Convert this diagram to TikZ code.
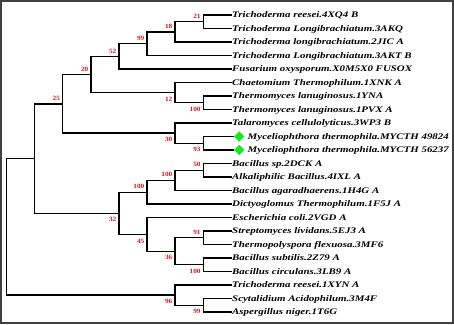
\documentclass[tikz,border=0pt]{standalone}
\usepackage{fontspec}
\usepackage{graphicx}
\setmainfont{Liberation Serif}
\newcommand{\lf}[1]{\scalebox{1.27}[1]{\bfseries\itshape #1}}
\newcommand{\bv}[1]{\scalebox{1.12}[1]{\bfseries #1}}
\usetikzlibrary{shapes.geometric}
\definecolor{lblred}{RGB}{205,25,25}
\definecolor{dgreen}{RGB}{20,235,20}
\begin{document}
\begin{tikzpicture}[x=1pt,y=-1pt,
  branch/.style={line width=1.3pt,black},
  leaf/.style={anchor=west,inner sep=0pt,text height=7pt,text depth=1.8pt,font=\fontsize{8.6}{10}\selectfont},
  boot/.style={inner sep=0pt,text=lblred,font=\fontsize{6.5}{7}\selectfont},
  bup/.style={boot,anchor=base east,xshift=-2.5pt,yshift=3.5pt},
  bdn/.style={boot,anchor=base east,xshift=-2.5pt,yshift=-8.7pt},
  gmark/.style={diamond,fill=dgreen,inner sep=0pt,minimum width=10.5pt,minimum height=10.5pt}]
\useasboundingbox (0,0) rectangle (454,324);
\draw[line width=2pt,black!75] (1,1) rectangle (453,323);
% leaves
\foreach \i/\t in {1/Trichoderma reesei.4XQ4 B,2/Trichoderma Longibrachiatum.3AKQ,3/Trichoderma longibrachiatum.2JIC A,4/Trichoderma Longibrachiatum.3AKT B,5/Fusarium oxysporum.X0M5X0 FUSOX,6/Chaetomium Thermophilum.1XNK A,7/Thermomyces lanuginosus.1YNA,8/Thermomyces lanuginosus.1PVX A,9/Talaromyces cellulolyticus.3WP3 B,12/Bacillus sp.2DCK A,13/Alkaliphilic Bacillus.4IXL A,14/Bacillus agaradhaerens.1H4G A,15/Dictyoglomus Thermophilum.1F5J A,16/Escherichia coli.2VGD A,17/Streptomyces lividans.5EJ3 A,18/Thermopolyspora flexuosa.3MF6,19/Bacillus subtilis.2Z79 A,20/Bacillus circulans.3LB9 A,21/Trichoderma reesei.1XYN A,22/Scytalidium Acidophilum.3M4F,23/Aspergillus niger.1T6G}
  \node[leaf] (l\i) at (232,{15+13.5*(\i-1)}) {\lf{\t}};
\node[gmark] (l10) at (239.3,136.5) {};
\node[leaf] (t10) at (247.5,136.5) {\lf{Myceliophthora thermophila.MYCTH 49824}};
\node[gmark] (l11) at (239.3,150) {};
\node[leaf] (t11) at (247.5,150) {\lf{Myceliophthora thermophila.MYCTH 56237}};
% internal nodes
\coordinate (n21) at (203.3,21.75);
\coordinate (n18) at (175,31.88);
\coordinate (n99a) at (147,43.81);
\coordinate (n52) at (119,56.53);
\coordinate (n100a) at (203.3,102.75);
\coordinate (n12) at (175,92.63);
\coordinate (n20) at (91,74.58);
\coordinate (n93) at (203.3,143.25);
\coordinate (n30) at (175,133.13);
\coordinate (n25) at (62.7,103.85);
\coordinate (n50) at (203.3,170.25);
\coordinate (n100b) at (175,180.38);
\coordinate (n100c) at (147,192.19);
\coordinate (n91) at (203.3,237.75);
\coordinate (n100d) at (203.3,264.75);
\coordinate (n36) at (175,251.25);
\coordinate (n45) at (147,234.38);
\coordinate (n32) at (119,213.28);
\coordinate (nA) at (34.7,158.57);
\coordinate (n99b) at (203.3,305.25);
\coordinate (n96) at (175,295.13);
\coordinate (root) at (6.7,226.85);
% branches
\draw[branch] (l1.west) -| (n21) |- (l2.west);
\draw[branch] (n21) -| (n18) |- (l3.west);
\draw[branch] (n18) -| (n99a) |- (l4.west);
\draw[branch] (n99a) -| (n52) |- (l5.west);
\draw[branch] (l7.west) -| (n100a) |- (l8.west);
\draw[branch] (l6.west) -| (n12) |- (n100a);
\draw[branch] (n52) -| (n20) |- (n12);
\draw[branch] (l10.west) -| (n93) |- (l11.west);
\draw[branch] (l9.west) -| (n30) |- (n93);
\draw[branch] (n20) -| (n25) |- (n30);
\draw[branch] (l12.west) -| (n50) |- (l13.west);
\draw[branch] (n50) -| (n100b) |- (l14.west);
\draw[branch] (n100b) -| (n100c) |- (l15.west);
\draw[branch] (l17.west) -| (n91) |- (l18.west);
\draw[branch] (l19.west) -| (n100d) |- (l20.west);
\draw[branch] (n91) -| (n36) |- (n100d);
\draw[branch] (l16.west) -| (n45) |- (n36);
\draw[branch] (n100c) -| (n32) |- (n45);
\draw[branch] (n25) -| (nA) |- (n32);
\draw[branch] (l22.west) -| (n99b) |- (l23.west);
\draw[branch] (l21.west) -| (n96) |- (n99b);
\draw[branch] (nA) -| (root) |- (n96);
% bootstrap values
\node[bup] (b21) at (n21) {\bv{21}};
\node[bup] (b18) at (n18) {\bv{18}};
\node[bup] (b99a) at (n99a) {\bv{99}};
\node[bup] (b52) at (n52) {\bv{52}};
\node[bup] (b20) at (n20) {\bv{20}};
\node[bup] (b25) at (n25) {\bv{25}};
\node[bdn] (b12) at (n12) {\bv{12}};
\node[bdn] (b100a) at (n100a) {\bv{100}};
\node[bdn] (b30) at (n30) {\bv{30}};
\node[bdn] (b93) at (n93) {\bv{93}};
\node[bup] (b50) at (n50) {\bv{50}};
\node[bup] (b100b) at (n100b) {\bv{100}};
\node[bup] (b100c) at (n100c) {\bv{100}};
\node[bdn] (b32) at (n32) {\bv{32}};
\node[bdn] (b45) at (n45) {\bv{45}};
\node[bup] (b91) at (n91) {\bv{91}};
\node[bdn] (b36) at (n36) {\bv{36}};
\node[bdn] (b100d) at (n100d) {\bv{100}};
\node[bdn] (b96) at (n96) {\bv{96}};
\node[bdn] (b99b) at (n99b) {\bv{99}};
\end{tikzpicture}
\end{document}
